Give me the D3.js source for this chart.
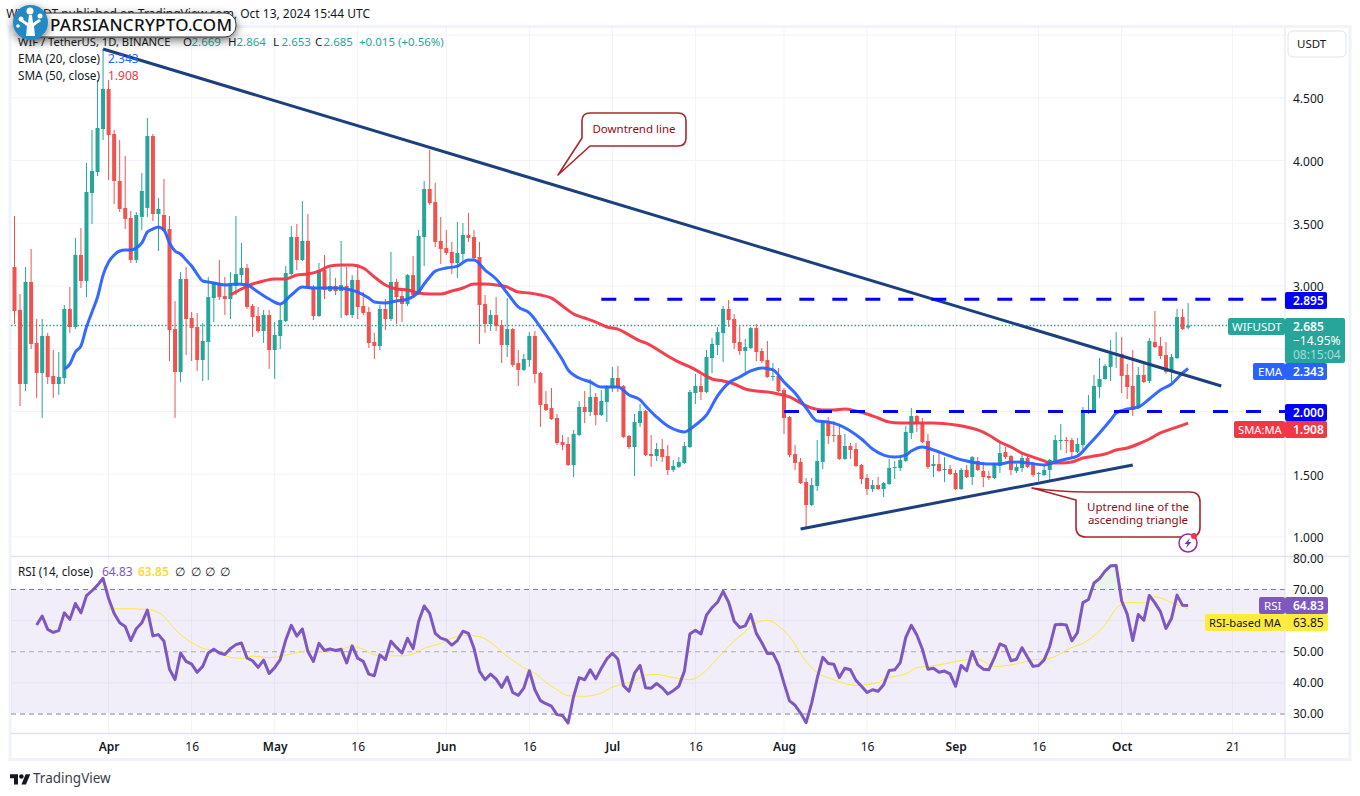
<!DOCTYPE html>
<html>
<head>
<meta charset="utf-8">
<script src="https://cdn.jsdelivr.net/npm/d3@7"></script>
<style>
    html, body { margin: 0; padding: 0; background: #fff; }
    svg { display: block; }
    text { font-family: "Noto Sans", sans-serif; }
    .axis path.domain, .axis line { display: none; }
</style>
</head>
<body>
<svg id="chart" width="1360" height="796"></svg>
<script>
// daily candles, WIF / USDT, day 0 is 15 Mar 2024
const firstDay = new Date(Date.UTC(2024, 2, 15));
const lastAxisDay = new Date(Date.UTC(2024, 9, 21));

const opens = [
    3.151,2.809,2.219,3.032,2.546,2.307,2.602,2.283,2.219,2.267,
    2.817,2.673,3.247,3.040,3.741,3.908,4.251,4.570,4.211,3.837,
    3.622,3.542,3.207,3.550,3.622,4.195,3.574,3.566,3.454,2.657,
    2.315,3.056,2.745,2.673,2.410,2.554,2.904,3.024,2.920,2.896,
    3.000,3.087,3.143,2.841,2.761,2.641,2.769,2.490,2.602,2.721,
    3.095,3.391,3.207,3.359,2.992,2.761,3.127,2.960,3.000,2.960,
    3.000,2.769,3.048,2.841,2.793,2.554,2.522,2.817,2.737,3.032,
    2.920,2.857,3.087,2.936,3.391,3.773,3.669,3.359,3.303,3.271,
    3.183,3.255,3.407,3.391,3.231,2.857,2.697,2.769,2.689,2.530,
    2.657,2.386,2.331,2.410,2.602,2.307,2.060,2.028,1.948,1.757,
    1.741,1.574,1.813,2.036,1.996,2.116,1.972,2.076,2.187,2.267,
    2.203,1.805,1.717,1.908,2.004,1.661,1.645,1.701,1.645,1.534,
    1.558,1.590,1.717,2.147,2.203,2.155,2.426,2.530,2.625,2.817,
    2.737,2.554,2.482,2.506,2.665,2.482,2.410,2.275,2.283,2.171,
    1.956,1.661,1.598,1.438,1.255,1.406,1.598,1.924,1.813,1.813,
    1.622,1.725,1.701,1.574,1.470,1.382,1.414,1.382,1.422,1.550,
    1.550,1.606,1.829,1.964,1.916,1.765,1.566,1.582,1.534,1.542,
    1.510,1.382,1.534,1.478,1.606,1.526,1.486,1.470,1.566,1.677,
    1.645,1.526,1.550,1.629,1.590,1.502,1.494,1.534,1.606,1.765,
    1.773,1.773,1.677,1.733,1.988,2.012,2.195,2.259,2.355,2.458,
    2.458,2.291,2.203,2.028,2.291,2.243,2.554,2.522,2.450,2.315,
    2.426,2.753,2.669
];
const highs = [
    3.558,2.936,3.151,3.295,2.737,2.737,2.626,2.490,2.474,2.849,
    2.992,3.383,3.462,3.980,4.243,4.641,4.888,4.641,4.243,4.163,
    4.036,3.598,3.590,3.900,4.339,4.211,3.701,3.853,3.558,2.880,
    3.111,3.151,2.793,2.785,2.705,3.072,3.032,3.207,3.072,3.111,
    3.558,3.343,3.175,2.857,2.833,2.809,2.809,2.713,2.849,3.159,
    3.478,3.494,3.677,3.574,3.008,3.183,3.247,3.143,3.064,3.359,
    3.151,3.087,3.159,2.952,2.833,2.626,2.849,2.896,3.271,3.056,
    2.968,3.095,3.239,3.446,3.837,4.084,3.821,3.550,3.446,3.351,
    3.510,3.502,3.582,3.446,3.351,2.928,2.809,2.912,2.729,2.904,
    2.665,2.490,2.458,2.633,2.641,2.315,2.163,2.187,1.980,1.813,
    1.797,1.853,2.084,2.163,2.259,2.147,2.171,2.211,2.355,2.363,
    2.211,1.813,1.980,2.060,2.012,1.813,1.749,1.781,1.733,1.614,
    1.637,1.757,2.171,2.299,2.291,2.490,2.586,2.673,2.841,2.888,
    2.777,2.681,2.578,2.673,2.697,2.506,2.562,2.386,2.347,2.187,
    1.964,1.733,1.629,1.470,1.470,1.773,1.932,1.956,1.924,1.884,
    1.821,1.749,1.749,1.582,1.502,1.454,1.478,1.438,1.622,1.606,
    1.653,1.884,2.028,1.972,1.948,1.821,1.653,1.685,1.637,1.574,
    1.534,1.550,1.574,1.645,1.637,1.598,1.526,1.590,1.765,1.717,
    1.653,1.582,1.661,1.645,1.598,1.518,1.574,1.622,1.813,1.900,
    1.797,1.789,1.789,2.036,2.132,2.291,2.426,2.378,2.570,2.633,
    2.594,2.378,2.490,2.355,2.378,2.586,2.801,2.594,2.554,2.458,
    2.817,2.817,2.864
];
const lows = [
    2.697,2.044,2.163,2.498,2.108,1.948,2.219,2.108,2.132,2.219,
    2.625,2.657,2.984,2.912,3.494,3.876,4.163,3.845,3.653,3.590,
    3.454,3.183,3.183,3.446,3.550,3.518,3.279,3.430,2.402,1.948,
    2.235,2.450,2.402,2.323,2.243,2.251,2.713,2.888,2.769,2.737,
    2.928,3.008,2.817,2.594,2.626,2.546,2.339,2.259,2.498,2.713,
    3.087,3.127,3.199,2.976,2.729,2.753,2.896,2.952,2.928,2.745,
    2.761,2.745,2.737,2.769,2.506,2.418,2.490,2.649,2.721,2.697,
    2.713,2.841,2.904,2.928,3.159,3.646,3.311,3.175,3.247,3.095,
    3.064,3.191,3.351,3.207,2.538,2.626,2.641,2.641,2.386,2.434,
    2.355,2.203,2.323,2.355,2.227,1.877,2.004,1.932,1.733,1.693,
    1.566,1.478,1.805,1.908,1.964,1.892,1.964,1.916,2.155,2.155,
    1.789,1.701,1.486,1.877,1.645,1.558,1.606,1.598,1.494,1.518,
    1.550,1.582,1.709,2.060,2.092,2.147,2.307,2.450,2.394,2.673,
    2.498,2.450,2.315,2.498,2.402,2.386,2.267,2.243,2.155,1.821,
    1.637,1.534,1.422,1.064,1.247,1.367,1.542,1.741,1.757,1.614,
    1.614,1.622,1.558,1.422,1.335,1.359,1.375,1.319,1.414,1.462,
    1.526,1.598,1.781,1.837,1.749,1.542,1.478,1.518,1.438,1.494,
    1.375,1.375,1.470,1.414,1.526,1.398,1.454,1.462,1.510,1.622,
    1.494,1.510,1.518,1.550,1.478,1.446,1.486,1.438,1.598,1.693,
    1.669,1.622,1.669,1.693,1.980,2.004,2.108,2.251,2.243,2.347,
    2.147,2.100,1.964,2.020,2.227,2.227,2.506,2.418,2.299,2.235,
    2.418,2.649,2.653
];
const closes = [
    2.801,2.219,3.032,2.538,2.307,2.602,2.275,2.219,2.275,2.817,
    2.673,3.247,3.040,3.749,3.916,4.259,4.570,4.203,3.837,3.614,
    3.534,3.207,3.566,3.757,4.195,3.574,3.614,3.438,2.649,2.315,
    3.056,2.737,2.665,2.410,2.562,2.912,3.024,2.912,2.896,3.008,
    3.095,3.143,2.833,2.753,2.641,2.769,2.490,2.610,2.729,3.103,
    3.391,3.207,3.359,2.984,2.761,3.127,2.968,3.000,2.960,3.008,
    2.769,3.048,2.833,2.785,2.546,2.522,2.817,2.737,3.032,2.912,
    2.857,3.087,2.928,3.399,3.773,3.661,3.351,3.295,3.263,3.183,
    3.263,3.407,3.383,3.223,2.849,2.697,2.769,2.681,2.530,2.657,
    2.371,2.331,2.418,2.602,2.299,2.052,2.012,1.940,1.749,1.733,
    1.574,1.821,2.036,1.996,2.116,1.972,2.084,2.203,2.267,2.195,
    1.797,1.717,1.916,2.004,1.653,1.645,1.701,1.637,1.534,1.566,
    1.598,1.725,2.155,2.203,2.155,2.434,2.538,2.633,2.817,2.729,
    2.546,2.482,2.514,2.665,2.474,2.402,2.275,2.283,2.163,1.948,
    1.653,1.590,1.430,1.255,1.414,1.606,1.924,1.805,1.805,1.622,
    1.725,1.693,1.566,1.462,1.382,1.414,1.382,1.430,1.550,1.558,
    1.614,1.837,1.964,1.900,1.757,1.558,1.582,1.526,1.542,1.502,
    1.382,1.534,1.478,1.637,1.534,1.478,1.470,1.582,1.669,1.637,
    1.534,1.558,1.629,1.558,1.494,1.510,1.534,1.614,1.773,1.773,
    1.765,1.677,1.741,1.988,2.012,2.203,2.259,2.363,2.458,2.466,
    2.283,2.195,2.012,2.291,2.235,2.562,2.514,2.442,2.315,2.434,
    2.753,2.657,2.685
];

const emaDays = [9,10,11,12,13,14,15,16,17,18,19,20,21,22,23,24,25,26,27,28,29,30,31,32,33,34,35,36,38,40,42,44,46,48,50,52,54,56,58,60,62,64,65,67,69,71,73,74,75,76,78,80,82,83,85,87,89,91,93,95,97,99,100,102,104,106,109,111,113,114,116,118,120,121,123,125,127,129,131,133,135,137,139,141,143,145,147,149,151,153,155,157,159,161,162,164,166,168,170,172,174,176,178,180,183,186,188,190,192,194,196,198,199,201,203,205,207,209,211,212];
const emaValues = [2.339,2.378,2.474,2.522,2.673,2.793,2.912,3.087,3.191,3.247,3.279,3.287,3.287,3.303,3.343,3.430,3.454,3.470,3.446,3.343,3.279,3.255,3.207,3.159,3.095,3.040,3.032,3.024,3.008,3.016,3.008,2.952,2.896,2.857,2.928,2.992,2.984,2.984,2.984,2.976,2.952,2.904,2.873,2.865,2.880,2.896,2.952,3.016,3.072,3.119,3.143,3.159,3.207,3.207,3.127,3.056,2.944,2.833,2.785,2.673,2.546,2.410,2.331,2.267,2.235,2.195,2.195,2.132,2.092,2.044,1.956,1.884,1.845,1.837,1.892,1.972,2.124,2.227,2.275,2.323,2.347,2.331,2.235,2.147,2.028,1.924,1.916,1.892,1.845,1.781,1.701,1.653,1.637,1.653,1.685,1.717,1.693,1.661,1.629,1.606,1.590,1.582,1.582,1.598,1.590,1.574,1.598,1.622,1.645,1.733,1.829,1.932,1.988,2.020,2.036,2.100,2.171,2.219,2.307,2.343];
const smaDays = [39,41,43,45,47,49,51,53,55,57,59,61,63,65,67,69,71,73,75,77,79,81,83,85,87,89,91,93,95,97,99,101,103,105,107,109,111,113,114,116,118,120,122,124,126,128,130,132,134,136,138,140,142,144,146,148,150,152,154,156,158,160,163,166,170,172,174,176,178,180,182,184,186,187,189,191,193,195,197,199,201,203,205,207,209,211,212];
const smaValues = [2.928,2.976,3.016,3.040,3.056,3.056,3.087,3.095,3.119,3.159,3.167,3.167,3.143,3.072,3.008,2.976,2.968,2.944,2.936,2.936,2.960,2.984,3.016,3.016,3.008,2.992,2.952,2.944,2.928,2.904,2.841,2.777,2.745,2.713,2.673,2.657,2.610,2.562,2.546,2.498,2.442,2.394,2.355,2.307,2.259,2.243,2.219,2.179,2.163,2.155,2.139,2.116,2.068,2.028,2.012,2.012,2.020,2.004,1.980,1.948,1.916,1.908,1.908,1.908,1.892,1.877,1.853,1.813,1.757,1.717,1.669,1.637,1.606,1.590,1.590,1.598,1.629,1.645,1.661,1.693,1.709,1.741,1.781,1.829,1.861,1.892,1.908];

// RSI (14), one value per day from day 4
const rsiFirstDay = 4;
const rsiValues = [
    58.6,61.5,57.2,56.2,56.8,62.5,60.4,65.5,62.5,68.0,69.6,71.4,73.6,67.1,62.3,59.3,58.1,53.6,57.4,59.3,
    63.4,55.1,55.5,53.4,44.4,41.1,49.6,46.9,46.0,43.4,45.3,49.6,50.8,49.6,49.1,51.0,52.3,52.8,48.0,47.1,
    45.0,47.3,43.0,44.9,47.5,53.8,58.5,55.0,57.3,50.1,46.9,52.7,50.4,50.9,50.4,50.8,46.4,51.9,47.9,46.9,
    42.8,42.3,49.0,47.5,53.4,51.4,49.6,54.3,51.0,59.7,64.7,62.3,55.9,54.4,53.8,52.1,53.6,56.6,55.9,51.1,
    43.7,41.0,42.8,41.2,38.5,41.9,36.9,36.0,38.3,43.9,37.8,34.3,33.3,32.5,29.8,29.5,27.1,35.7,41.7,41.0,
    44.2,41.3,44.7,47.7,49.5,47.6,39.1,37.3,43.1,45.6,38.4,38.3,39.8,38.4,36.4,37.5,38.9,43.7,55.7,56.9,
    55.7,61.8,64.2,65.9,69.4,65.9,59.8,57.8,58.3,62.0,55.9,52.9,49.4,49.5,46.0,39.9,34.2,32.8,30.3,27.2,
    33.5,41.5,48.2,46.2,46.0,41.7,44.7,44.2,40.8,38.9,36.9,37.8,37.3,39.4,44.0,44.2,46.5,54.6,58.5,55.4,
    50.8,44.4,44.7,43.4,43.8,42.9,38.9,45.6,43.9,50.1,45.8,44.4,44.2,48.0,52.5,51.7,47.1,47.6,51.3,48.2,
    45.3,45.6,47.4,51.7,58.7,58.8,58.6,53.5,56.1,65.8,66.8,72.1,73.5,75.9,77.6,77.7,66.3,62.1,53.6,62.0,
    60.1,68.1,65.7,62.9,57.5,60.7,68.2,64.9,64.83
];
const rsiMaDays = [17,20,24,27,29,32,34,36,39,41,43,46,48,51,53,56,59,61,63,65,67,70,72,74,77,79,81,84,86,89,92,94,96,98,100,103,106,108,110,112,114,116,119,122,124,127,129,132,134,136,138,140,143,145,148,152,156,157,159,161,163,165,168,171,174,177,181,184,187,191,193,195,197,199,201,204,206,209,212];
const rsiMaValues = [63.8,63.8,63.6,61.3,57.2,52.9,51.1,50.4,48.2,47.9,48.6,48.1,48.5,49.7,50.3,49.9,50.8,51.7,50.8,49.0,48.7,48.7,49.3,51.1,52.7,54.4,55.3,54.9,53.0,48.5,44.9,43.1,40.2,37.8,35.9,35.7,36.7,38.6,39.6,40.8,42.5,42.7,41.7,41.0,42.6,47.9,51.7,56.5,59.3,60.1,58.3,54.9,46.9,43.3,41.0,39.2,40.1,41.2,42.1,42.9,44.9,45.3,46.1,47.2,47.6,45.3,46.1,47.4,47.9,51.4,52.7,55.1,58.6,63.9,65.8,65.7,67.7,65.8,63.85];

// drawn trend lines: [day, price]
const downtrend = [[16, 4.888], [218, 2.203]];
const uptrend = [[142, 1.064], [202, 1.574]];
const resistance = 2.895;
const resistanceFromDay = 106;
const support = 2.000;
const supportFromDay = 139;

// axis ticks
const priceTicks = [1, 1.5, 2, 2.5, 3, 3.5, 4, 4.5, 5];
const priceLabels = [1, 1.5, 3, 3.5, 4, 4.5];
const rsiGrid = [40, 60];
const rsiLabels = [80, 70, 50, 40, 30];
const timeTicks = [[3, 1], [3, 16], [4, 1], [4, 16], [5, 1], [5, 16], [6, 1], [6, 16], [7, 1], [7, 16], [8, 1], [8, 16], [9, 1], [9, 21]];
const timeLabels = ['Apr', '16', 'May', '16', 'Jun', '16', 'Jul', '16', 'Aug', '16', 'Sep', '16', 'Oct', '21'];

const UP = '#26a69a', DOWN = '#ef5350', EMA = '#2962ff', SMA = '#f23645', RSI = '#7e57c2', RSIMA = '#ffe83b';
const NAVY = '#1c3f7f', LEVEL = '#0000ff', NOTE = '#a9282d', INK = '#131722', GRID = '#f0f3fa', BAND = '#e0e3eb';

const svg = d3.select('#chart');
const dayAt = i => d3.utcDay.offset(firstDay, i);

const x = d3.scaleUtc().domain([firstDay, lastAxisDay]).range([14.5, 1232.4]);
const y = d3.scaleLinear().domain([1, 5]).range([537, 35]);
const rsiY = d3.scaleLinear().domain([30, 70]).range([714, 589.5]);

const defs = svg.append('defs');
defs.append('filter').attr('id', 'logoShadow').attr('x', '-20%').attr('y', '-60%').attr('width', '140%').attr('height', '240%')
    .append('feDropShadow').attr('dx', 0).attr('dy', 3).attr('stdDeviation', 5).attr('flood-color', '#000').attr('flood-opacity', 0.55);
defs.append('clipPath').attr('id', 'overRsi').append('rect').attr('x', 11).attr('y', 557).attr('width', 1274).attr('height', rsiY(70) - 557);
defs.append('clipPath').attr('id', 'rsiAxisClip').append('rect').attr('x', 1285).attr('y', 553).attr('width', 64).attr('height', 180);

// frame
svg.append('rect').attr('x', 10).attr('y', 26.5).attr('width', 1340).attr('height', 733)
    .attr('fill', 'none').attr('stroke', GRID).attr('stroke-width', 3);

// grid
const grid = svg.append('g');
grid.selectAll('.vgrid').data(timeTicks).enter().append('line')
    .attr('x1', d => x(new Date(Date.UTC(2024, d[0], d[1])))).attr('x2', d => x(new Date(Date.UTC(2024, d[0], d[1]))))
    .attr('y1', 28).attr('y2', 733).attr('stroke', GRID);
grid.selectAll('.hgrid').data(priceTicks).enter().append('line')
    .attr('x1', 11).attr('x2', 1285).attr('y1', d => y(d)).attr('y2', d => y(d)).attr('stroke', GRID);

// rsi pane background
grid.append('rect').attr('x', 11).attr('y', rsiY(70)).attr('width', 1274).attr('height', rsiY(30) - rsiY(70) - 1)
    .attr('fill', '#7e57c2').attr('fill-opacity', 0.1);
grid.selectAll('.rgrid').data(rsiGrid).enter().append('line')
    .attr('x1', 11).attr('x2', 1285).attr('y1', d => rsiY(d)).attr('y2', d => rsiY(d)).attr('stroke', '#e6e3f0');
[[70, 0.95], [50, 0.6], [30, 0.95]].forEach(function (d) {
    grid.append('line').attr('x1', 11).attr('x2', 1285).attr('y1', rsiY(d[0])).attr('y2', rsiY(d[0]))
        .attr('stroke', '#787b86').attr('stroke-opacity', d[1]).attr('stroke-dasharray', '5 4');
});

// pane separators
svg.append('line').attr('x1', 11).attr('x2', 1349).attr('y1', 556.5).attr('y2', 556.5).attr('stroke', BAND).attr('stroke-width', 1.5);
svg.append('line').attr('x1', 11).attr('x2', 1349).attr('y1', 733.5).attr('y2', 733.5).attr('stroke', BAND).attr('stroke-width', 1.5);
svg.append('line').attr('x1', 1285).attr('x2', 1285).attr('y1', 28).attr('y2', 759).attr('stroke', BAND).attr('stroke-width', 1);

// last price line
svg.append('line').attr('x1', 11).attr('x2', 1228).attr('y1', y(closes[212])).attr('y2', y(closes[212]))
    .attr('stroke', UP).attr('stroke-width', 1.4).attr('stroke-dasharray', '1.5 2');

// candles
const candles = opens.map((o, i) => ({ day: dayAt(i), o: o, h: highs[i], l: lows[i], c: closes[i] }));
const cg = svg.append('g');
cg.selectAll('.wick').data(candles).enter().append('line')
    .attr('x1', d => x(d.day)).attr('x2', d => x(d.day))
    .attr('y1', d => y(d.h)).attr('y2', d => y(d.l))
    .attr('stroke', d => d.c >= d.o ? UP : DOWN).attr('stroke-width', 1);
cg.selectAll('.body').data(candles).enter().append('rect')
    .attr('x', d => x(d.day) - 2).attr('width', 4)
    .attr('y', d => y(Math.max(d.o, d.c)))
    .attr('height', d => Math.max(1, Math.abs(y(d.o) - y(d.c))))
    .attr('fill', d => d.c >= d.o ? UP : DOWN);

// moving averages
const maLine = d3.line().x(d => x(dayAt(d[0]))).y(d => y(d[1])).curve(d3.curveMonotoneX);
svg.append('path').datum(smaDays.map((d, i) => [d, smaValues[i]])).attr('d', maLine)
    .attr('fill', 'none').attr('stroke', SMA).attr('stroke-width', 3).attr('stroke-linejoin', 'round').attr('stroke-opacity', 0.95);
svg.append('path').datum(emaDays.map((d, i) => [d, emaValues[i]])).attr('d', maLine)
    .attr('fill', 'none').attr('stroke', EMA).attr('stroke-width', 3).attr('stroke-linejoin', 'round').attr('stroke-opacity', 0.95);

// trend lines and levels
const straight = d3.line().x(d => x(dayAt(d[0]))).y(d => y(d[1]));
[downtrend, uptrend].forEach(function (t) {
    svg.append('path').datum(t).attr('d', straight).attr('stroke', NAVY).attr('stroke-width', 3).attr('fill', 'none');
});
[[resistance, resistanceFromDay], [support, supportFromDay]].forEach(function (l) {
    svg.append('line').attr('x1', x(dayAt(l[1]))).attr('x2', 1285).attr('y1', y(l[0])).attr('y2', y(l[0]))
        .attr('stroke', LEVEL).attr('stroke-width', 3).attr('stroke-dasharray', '15 18');
});

// callouts
function callout(path, lines, tx, ty) {
    const g = svg.append('g');
    g.append('path').attr('d', path).attr('fill', '#fff').attr('stroke', NOTE).attr('stroke-width', 1.6).attr('stroke-linejoin', 'round');
    lines.forEach(function (t, i) {
        g.append('text').attr('x', tx).attr('y', ty + i * 13).attr('text-anchor', 'middle')
            .attr('font-size', 11.5).attr('fill', '#950a12').text(t);
    });
}
callout('M590,113 H678 Q686,113 686,121 V138 Q686,146 678,146 H590 L558,175 L582,138 V121 Q582,113 590,113 Z',
    ['Downtrend line'], 634, 133);
callout('M1087,492 H1190 Q1200,492 1200,502 V527 Q1200,537 1190,537 H1086 Q1076,537 1076,527 V500 L1032,488 Q1060,492 1087,492 Z',
    ['Uptrend line of the', 'ascending triangle'], 1138, 511);

// rsi
const rsiPoints = rsiValues.map((v, i) => [rsiFirstDay + i, v]);
svg.append('path').datum(rsiPoints)
    .attr('d', d3.area().x(d => x(dayAt(d[0]))).y0(rsiY(70)).y1(d => rsiY(d[1])))
    .attr('clip-path', 'url(#overRsi)').attr('fill', '#4caf50').attr('fill-opacity', 0.12);
svg.append('path').datum(rsiMaDays.map((d, i) => [d, rsiMaValues[i]]))
    .attr('d', d3.line().x(d => x(dayAt(d[0]))).y(d => rsiY(d[1])).curve(d3.curveMonotoneX))
    .attr('fill', 'none').attr('stroke', RSIMA).attr('stroke-width', 1);
svg.append('path').datum(rsiPoints)
    .attr('d', d3.line().x(d => x(dayAt(d[0]))).y(d => rsiY(d[1])))
    .attr('fill', 'none').attr('stroke', RSI).attr('stroke-width', 3).attr('stroke-linejoin', 'round');

// axes
const axisFont = g => g.selectAll('text').attr('font-size', 12).attr('fill', INK);
svg.append('g').attr('class', 'axis').attr('transform', 'translate(1285,1)')
    .call(d3.axisRight(y).tickValues(priceLabels).tickSize(0).tickPadding(8).tickFormat(d3.format('.3f')))
    .call(axisFont);
svg.append('g').attr('clip-path', 'url(#rsiAxisClip)')
    .append('g').attr('class', 'axis').attr('transform', 'translate(1285,0)')
    .call(d3.axisRight(rsiY).tickValues(rsiLabels).tickSize(0).tickPadding(8).tickFormat(d3.format('.2f')))
    .call(axisFont);
const timeDates = timeTicks.map(d => new Date(Date.UTC(2024, d[0], d[1])));
svg.append('g').attr('class', 'axis').attr('transform', 'translate(0,734)')
    .call(d3.axisBottom(x).tickValues(timeDates).tickSize(0).tickPadding(8).tickFormat((d, i) => timeLabels[i]))
    .call(axisFont)
    .call(g => g.selectAll('text').attr('font-weight', (d, i) => timeLabels[i].length === 3 ? 600 : 400));

// price scale tags
function tag(x0, x1, y0, y1, fill) {
    svg.append('rect').attr('x', x0).attr('y', y0).attr('width', x1 - x0).attr('height', y1 - y0).attr('rx', 2).attr('fill', fill);
}
function label(tx, ty, t, fill, size, anchor, weight, op) {
    svg.append('text').attr('x', tx).attr('y', ty).attr('font-size', size || 12)
        .attr('text-anchor', anchor || 'start').attr('font-weight', weight || 400)
        .attr('fill-opacity', op || 1).attr('fill', fill).text(t);
}
tag(1285, 1327, 292, 309, LEVEL); label(1293, 305, '2.895', '#fff', 12, 'start', 600);
tag(1228, 1285, 318, 335, UP); label(1232, 330.5, 'WIFUSDT', '#fff', 11.5);
tag(1285, 1345, 318, 363, UP); label(1293, 331, '2.685', '#fff', 12, 'start', 600);
label(1293, 345, '\u221214.95%', '#fff', 12); label(1293, 359, '08:15:04', '#fff', 12, 'start', 400, 0.6);
tag(1253, 1285, 363, 380, EMA); label(1258, 376, 'EMA', '#fff', 11.5);
tag(1285, 1327, 363, 380, EMA); label(1293, 376, '2.343', '#fff', 12, 'start', 600);
tag(1285, 1327, 404, 421, LEVEL); label(1293, 417, '2.000', '#fff', 12, 'start', 600);
tag(1234, 1285, 421, 438, SMA); label(1238, 434, 'SMA:MA', '#fff', 11.2);
tag(1285, 1327, 421, 438, SMA); label(1293, 434, '1.908', '#fff', 12, 'start', 600);
tag(1259, 1285, 597, 614, RSI); label(1264, 610, 'RSI', '#fff', 11.5);
tag(1285, 1328, 597, 614, RSI); label(1293, 610, '64.83', '#fff', 12, 'start', 600);
tag(1205, 1285, 614, 631, '#ffeb3b'); label(1209, 627, 'RSI-based MA', INK, 11.1);
tag(1285, 1328, 614, 631, '#ffeb3b'); label(1293, 627, '63.85', INK, 12);

svg.append('rect').attr('x', 1288).attr('y', 31).attr('width', 58).attr('height', 26).attr('rx', 5)
    .attr('fill', '#fff').attr('stroke', BAND);
label(1297, 48, 'USDT', INK, 11.5);

// news flash icon
const flash = svg.append('g').attr('transform', 'translate(1188,543)');
flash.append('circle').attr('r', 9).attr('fill', '#fff').attr('stroke', '#9c27b0').attr('stroke-width', 1.5);
flash.append('path').attr('d', 'M2,-5 L-3.5,1 H-0.5 L-2,5 L3.5,-1 H0.5 Z').attr('fill', '#7b2fb5');
flash.append('circle').attr('cx', 6).attr('cy', -7).attr('r', 3).attr('fill', '#f23645');

// legend
label(370, 18, 'WIFUSDT published on TradingView.com, Oct 13, 2024 15:44 UTC', INK, 12, 'end');
label(18, 46, 'WIF / TetherUS, 1D, BINANCE', INK, 11.2);
[[183, 'O', '2.669'], [228, 'H', '2.864'], [273, 'L', '2.653'], [315, 'C', '2.685']].forEach(function (d) {
    label(d[0], 46, d[1], INK, 11.5);
    label(d[0] + 8.5, 46, d[2], UP, 11.5);
});
label(359, 46, '+0.015 (+0.56%)', UP, 11.5);
label(18, 63, 'EMA (20, close)', INK, 11.7); label(108, 63, '2.343', EMA, 12);
label(18, 80, 'SMA (50, close)', INK, 11.7); label(108, 80, '1.908', SMA, 12);
label(18, 576, 'RSI (14, close)', INK, 11.7); label(102, 576, '64.83', RSI, 12); label(138, 576, '63.85', '#fdd835', 12, 'start', 600);
[175, 191, 205, 220].forEach(px => label(px, 576, '\u2205', INK, 12));

// site badge
const badge = svg.append('g');
badge.append('rect').attr('x', 30).attr('y', 13).attr('width', 206).attr('height', 24).attr('rx', 11)
    .attr('fill', '#fff').attr('stroke', '#333').attr('stroke-width', 1).attr('filter', 'url(#logoShadow)');
badge.append('circle').attr('cx', 30.5).attr('cy', 22.5).attr('r', 17.5).attr('fill', '#2389c4').attr('filter', 'url(#logoShadow)');
badge.append('path').attr('d', 'M26,36 L27,26 L20,21 L22,19 L28,23 L29,15 L32,15 L33,23 L39,19 L41,21 L34,26 L35,36 Z').attr('fill', '#fff');
[[21, 19, 2.5], [30, 11, 3.5], [40, 16, 2.5], [18, 26, 1.8]].forEach(function (c) {
    badge.append('circle').attr('cx', c[0]).attr('cy', c[1]).attr('r', c[2]).attr('fill', '#fff');
});
badge.append('text').attr('x', 50).attr('y', 31).attr('font-size', 17).attr('font-weight', 500)
    .attr('textLength', 182).attr('fill', '#111').text('PARSIANCRYPTO.COM');

// footer
const tv = svg.append('g').attr('transform', 'translate(10,772) scale(0.57)').attr('fill', '#131722');
tv.append('path').attr('d', 'M14 22H7V11H0V4h14v18zM28 22h-8l7.5-18h8L28 22z');
tv.append('circle').attr('cx', 20).attr('cy', 8).attr('r', 4);
label(33, 783, 'TradingView', '#3a3e4a', 13.5);
</script>
</body>
</html>
